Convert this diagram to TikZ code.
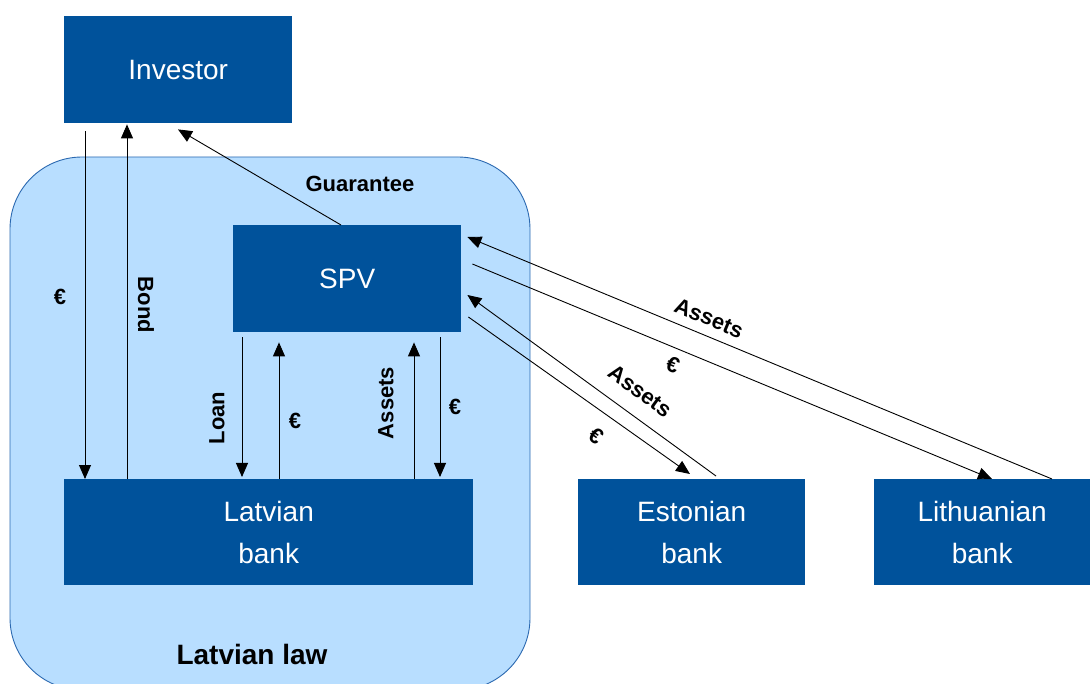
\documentclass[tikz,border=0pt]{standalone}
\usepackage{fontspec}
\setmainfont{Liberation Sans}
\usetikzlibrary{arrows.meta,calc}
\definecolor{boxblue}{HTML}{00529B}
\definecolor{lawfill}{HTML}{B8DEFF}
\definecolor{lawline}{HTML}{2A68B0}
\tikzset{
  bank/.style={fill=boxblue,text=white,inner sep=0pt,anchor=north west,align=center,
    font=\fontsize{28}{42}\selectfont},
  arr/.style={line width=0.9pt,-{Triangle[length=14pt,width=12pt]}},
  lbl/.style={font=\bfseries\fontsize{22}{26}\selectfont,inner sep=0pt},
}
\begin{document}
\begin{tikzpicture}[x=1pt,y=-1pt]
\useasboundingbox (0,0) rectangle (1090,684);
% Latvian law area
\draw[fill=lawfill,draw=lawline,line width=0.9pt,rounded corners=72pt] (10,157) rectangle (530,690);
\node[lbl,font=\bfseries\fontsize{28}{30}\selectfont] (law) at (252,654) {Latvian law};
% boxes
\node[bank,minimum width=228pt,minimum height=107pt] (inv) at (64,16) {Investor};
\node[bank,minimum width=228pt,minimum height=107pt] (spv) at (233,225) {SPV};
\node[bank,minimum width=409pt,minimum height=106pt] (lat) at (64,479) {Latvian\\bank};
\node[bank,minimum width=227pt,minimum height=106pt] (est) at (578,479) {Estonian\\bank};
\node[bank,minimum width=216pt,minimum height=106pt] (lit) at (874,479) {Lithuanian\\bank};
% investor <-> latvian bank
\draw[arr] ($(inv.south west)+(21,8)$) -- ($(lat.north west)+(21,0)$);
\draw[arr] ($(lat.north west)+(63,0)$) -- ($(inv.south west)+(63,1)$);
\node[lbl] (e1) at (60,297) {€};
\node[lbl,rotate=-90] (bond) at (146,305) {Bond};
% guarantee
\draw[arr] ($(spv.north west)+(108,0)$) -- ($(inv.south west)+(114,6)$);
\node[lbl] (guar) at (360,184) {Guarantee};
% spv <-> latvian bank
\draw[arr] ($(spv.south west)+(9,5)$) -- ($(lat.north west)+(178,-2)$);
\draw[arr] ($(lat.north west)+(215,0)$) -- ($(spv.south west)+(46,10)$);
\draw[arr] ($(lat.north west)+(350,0)$) -- ($(spv.south west)+(181,10)$);
\draw[arr] ($(spv.south west)+(207,5)$) -- ($(lat.north west)+(376,-2)$);
\node[lbl,rotate=90] (loan) at (217,418) {Loan};
\node[lbl] (e2) at (295,421) {€};
\node[lbl,rotate=90] (as1) at (386,403) {Assets};
\node[lbl] (e3) at (455,407) {€};
% spv <-> lithuanian bank
\draw[arr] ($(lit.north west)+(178,0)$) -- ($(spv.north east)+(6,12)$);
\draw[arr] ($(spv.north east)+(11,39)$) -- ($(lit.north west)+(118,0)$);
\node[lbl,rotate=-22.5] (as2) at (709,318) {Assets};
\node[lbl,rotate=-22.5] (e4) at (673,365) {€};
% spv <-> estonian bank
\draw[arr] ($(est.north west)+(138,-3)$) -- ($(spv.north east)+(6,70)$);
\draw[arr] ($(spv.north east)+(7,92)$) -- ($(est.north west)+(112,-5)$);
\node[lbl,rotate=-36] (as3) at (640,391) {Assets};
\node[lbl,rotate=-36] (e5) at (596,436) {€};
\end{tikzpicture}
\end{document}
